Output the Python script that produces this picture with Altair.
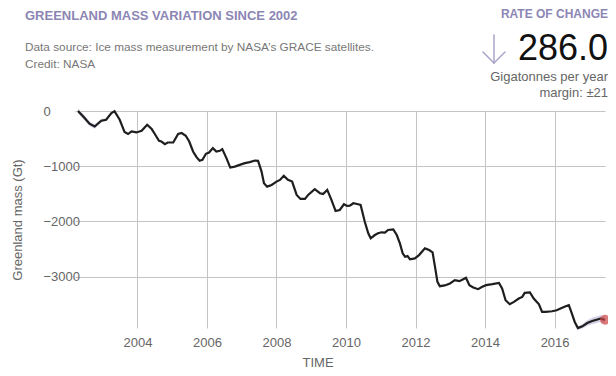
import altair as alt
import pandas as pd

# Greenland mass (Gt) vs decimal year
years = [2002.29, 2002.48, 2002.62, 2002.77, 2002.96, 2003.10, 2003.25, 2003.34, 2003.49, 2003.63,
         2003.73, 2003.83, 2003.97, 2004.12, 2004.28, 2004.41, 2004.50, 2004.62, 2004.69, 2004.79,
         2004.87, 2005.03, 2005.17, 2005.27, 2005.39, 2005.49, 2005.60, 2005.70, 2005.79, 2005.87,
         2005.97, 2006.06, 2006.17, 2006.27, 2006.37, 2006.44, 2006.56, 2006.67, 2006.80, 2006.94,
         2007.09, 2007.23, 2007.38, 2007.47, 2007.57, 2007.64, 2007.73, 2007.86, 2008.00, 2008.10,
         2008.21, 2008.33, 2008.45, 2008.58, 2008.69, 2008.82, 2008.91, 2009.10, 2009.25, 2009.34,
         2009.46, 2009.58, 2009.70, 2009.82, 2009.94, 2010.03, 2010.11, 2010.21, 2010.32, 2010.42,
         2010.54, 2010.64, 2010.71, 2010.83, 2010.92, 2011.02, 2011.12, 2011.21, 2011.36, 2011.46,
         2011.55, 2011.63, 2011.70, 2011.77, 2011.84, 2011.98, 2012.10, 2012.27, 2012.39, 2012.49,
         2012.56, 2012.63, 2012.70, 2012.84, 2012.99, 2013.13, 2013.26, 2013.36, 2013.45, 2013.55,
         2013.66, 2013.80, 2013.92, 2014.03, 2014.21, 2014.40, 2014.49, 2014.59, 2014.71, 2014.83,
         2014.97, 2015.07, 2015.14, 2015.29, 2015.40, 2015.55, 2015.64, 2015.74, 2015.93, 2016.06,
         2016.17, 2016.32, 2016.41, 2016.48, 2016.58, 2016.67, 2016.80, 2016.94, 2017.08, 2017.23,
         2017.32, 2017.45]
mass = [0, -127, -230, -280, -176, -158, -36, -5, -158, -381,
        -417, -370, -388, -358, -249, -327, -417, -539, -552, -599,
        -570, -570, -417, -399, -448, -552, -733, -835, -902, -884,
        -775, -751, -672, -733, -721, -690, -853, -1024, -1006, -975,
        -944, -926, -897, -902, -1096, -1307, -1369, -1338, -1278, -1247,
        -1174, -1247, -1278, -1519, -1592, -1592, -1519, -1416, -1488, -1501,
        -1428, -1610, -1810, -1791, -1688, -1719, -1713, -1670, -1683, -1701,
        -2004, -2214, -2305, -2245, -2214, -2196, -2203, -2154, -2142, -2245,
        -2396, -2577, -2639, -2626, -2686, -2668, -2608, -2487, -2517, -2559,
        -2821, -3093, -3171, -3158, -3122, -3062, -3080, -3049, -3020, -3153,
        -3194, -3225, -3183, -3153, -3134, -3111, -3213, -3425, -3498, -3456,
        -3394, -3365, -3292, -3285, -3394, -3498, -3637, -3637, -3625, -3606,
        -3576, -3534, -3516, -3637, -3819, -3928, -3897, -3837, -3801, -3775,
        -3757, -3780]
# uncertainty (Gt) around the line, visible only at the ends
uncert = [45, 45, 40, 40, 30, 25, 20, 15, 10, 5] + [0] * 112 + [5, 10, 20, 30, 40, 50, 60, 60, 60, 60]

y_ticks = [0, -1000, -2000, -3000]
x_ticks = [2004, 2006, 2008, 2010, 2012, 2014, 2016]

df = pd.DataFrame({"year": years, "mass": mass})
df["lo"] = [m - u for m, u in zip(mass, uncert)]
df["hi"] = [m + u for m, u in zip(mass, uncert)]
last = df.tail(1)

SANS = "Liberation Sans, Arial, sans-serif"
PURPLE = "#8c86b4"
ARROW = "#a9a4c9"

xs = alt.Scale(domain=[2002.29, 2017.45], nice=False, zero=False)
ys = alt.Scale(domain=[-3928, 0], nice=False, zero=False)

xaxis = alt.Axis(values=x_ticks, format="d", grid=True, gridColor="#c4c4c4", domain=False,
                 ticks=False, labelPadding=8, labelFont=SANS, labelFontSize=13,
                 labelColor="#666666", title="TIME", titleFont=SANS, titleFontSize=13,
                 titleFontWeight="normal", titleColor="#666666", titleX=224, titleY=38,
                 titleAlign="left", titleBaseline="alphabetic", titleAnchor="start")
yaxis = alt.Axis(values=y_ticks, format="d", grid=True, gridColor="#c4c4c4", domain=False,
                 tickSize=3, tickColor="#c4c4c4", labelAlign="left", labelPadding=32,
                 labelFont=SANS, labelFontSize=13, labelColor="#666666",
                 title="Greenland mass (Gt)", titleFont=SANS, titleFontSize=13,
                 titleFontWeight="normal", titleColor="#666666", titleX=-54,
                 titleBaseline="bottom")

band = alt.Chart(df).mark_area(color="#c9c4e0", opacity=0.8).encode(
    x=alt.X("year:Q", scale=xs, axis=xaxis),
    y=alt.Y("lo:Q", scale=ys, axis=yaxis),
    y2="hi:Q",
)
line = alt.Chart(df).mark_line(color="#1e1e1e", strokeWidth=2.2).encode(
    x=alt.X("year:Q", scale=xs),
    y=alt.Y("mass:Q", scale=ys),
)
dot = alt.Chart(last).mark_circle(color="#cc4444", opacity=0.7, size=100).encode(
    x=alt.X("year:Q", scale=xs),
    y=alt.Y("mass:Q", scale=ys),
)

one = pd.DataFrame({"a": [0]})


def txt(text, x, y, size, color, font=SANS, weight="normal", align="left"):
    return alt.Chart(one).mark_text(text=text, font=font, fontSize=size, color=color,
                                    fontWeight=weight, align=align, baseline="alphabetic").encode(
        x=alt.value(x), y=alt.value(y))


def seg(x1, y1, x2, y2):
    return alt.Chart(one).mark_rule(color=ARROW, strokeWidth=1.5, strokeCap="round").encode(
        x=alt.value(x1), y=alt.value(y1), x2=alt.value(x2), y2=alt.value(y2))


texts = [
    txt("GREENLAND MASS VARIATION SINCE 2002", -53, -91, 13, PURPLE, SANS, "bold"),
    txt("Data source: Ice mass measurement by NASA\u2019s GRACE satellites.", -53, -60, 11.8, "#777777", SANS),
    txt("Credit: NASA", -53, -43, 11.8, "#777777", SANS),
    txt("RATE OF CHANGE", 530, -93, 12, PURPLE, SANS, "bold", "right"),
    txt("286.0", 530, -51, 36, "#111111", SANS, "normal", "right"),
    txt("Gigatonnes per year", 530, -30, 13, "#666666", SANS, "normal", "right"),
    txt("margin: \u00b121", 530, -14, 13, "#666666", SANS, "normal", "right"),
]
arrow = [seg(416, -76, 416, -48), seg(405, -59, 416, -48), seg(427, -59, 416, -48)]

chart = alt.layer(band, line, dot, *texts, *arrow).properties(
    width=527, height=217,
    autosize=alt.AutoSizeParams(type="none"),
    padding={"left": 70, "top": 103, "right": 3, "bottom": 40},
).configure_view(stroke=None)

chart.save("out.html", embed_options={"renderer": "svg", "actions": False})
